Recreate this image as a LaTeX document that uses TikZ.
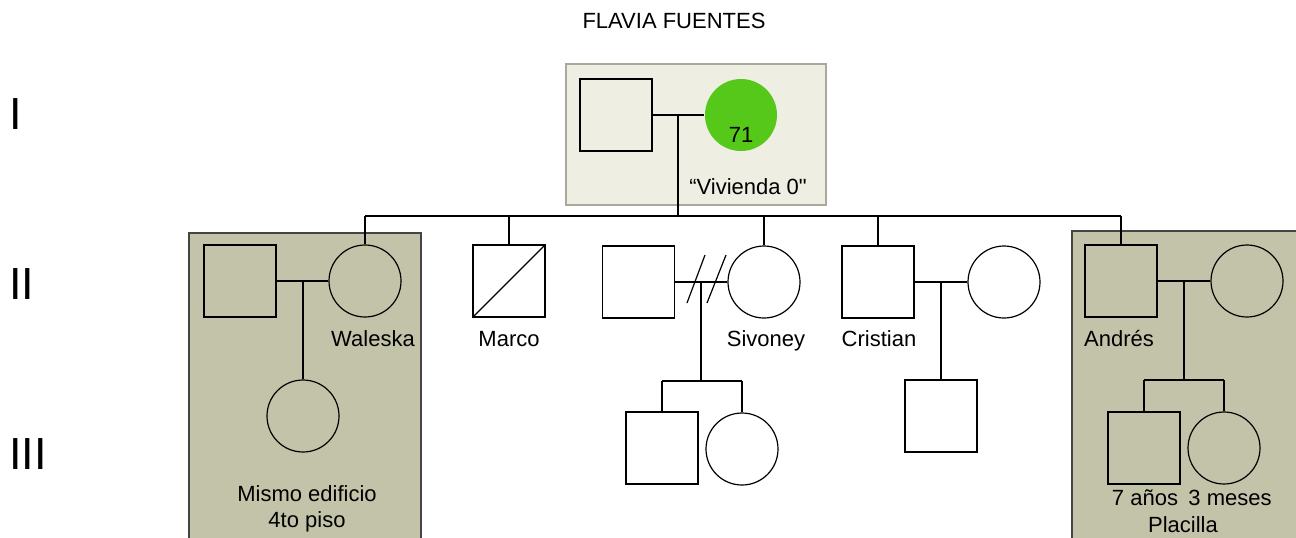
\documentclass[tikz,border=0pt]{standalone}
\usepackage{fontspec}
\setmainfont{Liberation Sans}[Ligatures=TeXOff]
\usetikzlibrary{positioning}
\definecolor{homepale}{HTML}{EFEEE3}
\definecolor{homepaleline}{HTML}{A9A99B}
\definecolor{homeolive}{HTML}{C3C3A9}
\definecolor{homeoliveline}{HTML}{444444}
\definecolor{agegreen}{HTML}{55C81A}

\begin{document}
\begin{tikzpicture}[x=0.5pt,y=-0.5pt,
  male/.style={draw, rectangle, minimum size=36pt, inner sep=0pt, line width=0.6pt},
  female/.style={draw, circle, minimum size=36pt, inner sep=0pt, line width=0.6pt},
  tag/.style={font=\fontsize{11}{13}\selectfont, align=center},
  lbl/.style={tag, anchor=base},
  gen/.style={font=\fontsize{22.5}{24}\selectfont, anchor=west, inner sep=0pt},
  tie/.style={line width=0.6pt}]
\clip (0,0) rectangle (1296,537);
% households
\draw[fill=homepale, draw=homepaleline, line width=0.6pt] (566,64) rectangle (826,205);
\draw[fill=homeolive, draw=homeoliveline, line width=0.6pt] (189,233) rectangle (421,545);
\draw[fill=homeolive, draw=homeoliveline, line width=0.6pt] (1072,231) rectangle (1310,545);
% titles
\node[tag] (title) at (674,21) {FLAVIA FUENTES};
\node[gen] (g1) at (9,114) {I};
\node[gen] (g2) at (9,284) {II};
\node[gen] (g3) at (9,454) {III};
% generation I
\node[male] (f1m) at (616,115) {};
\node[female, draw=none, fill=agegreen] (f1f) at (741,115) {};
\node[tag] (age) at (741,135) {71};
\node[tag] (viv) at (748,187) {“Vivienda 0"};
% generation II
\node[male] (wh) at (240,281) {};
\node[female] (wal) at (365,281) {};
\node[male] (marco) at (509,281) {};
\node[male] (sivh) at (638.5,282) {};
\node[female] (siv) at (764,282) {};
\node[male] (cri) at (878,282) {};
\node[female] (criw) at (1004,282) {};
\node[male] (and) at (1121,281) {};
\node[female] (andw) at (1247,281) {};
% generation III
\node[female] (walc) at (303,416) {};
\node[male] (siva) at (662,448) {};
\node[female] (sivb) at (742,449) {};
\node[male] (cric) at (941,416) {};
\node[male] (anda) at (1144,448) {};
\node[female] (andb) at (1224,448) {};
% names
\node[lbl] (lwal) at (373,346) {Waleska};
\node[lbl] (lmarco) at (509,346) {Marco};
\node[lbl] (lsiv) at (766,346) {Sivoney};
\node[lbl] (lcri) at (879,346) {Cristian};
\node[lbl] (land) at (1119,346) {Andrés};
\node[tag] (lwalc) at (307,509) {Mismo edificio\\4to piso};
\node[tag] (landa) at (1145,498) {7 años};
\node[tag] (landb) at (1230,498) {3 meses};
\node[tag] (lpla) at (1183,525) {Placilla};
% lines
\draw[tie] (f1m.east) -- (f1f.west);
\coordinate (f1mid) at (678,115);
\coordinate (f1sib) at (678,216);
\draw[tie] (f1mid) -- (f1sib);
\draw[tie] (wal |- f1sib) -- (and |- f1sib);
\foreach \kid in {wal, marco, siv, cri, and}
  \draw[tie] (\kid |- f1sib) -- (\kid.north);
\draw[tie] (marco.south west) -- (marco.north east);

\draw[tie] (wh.east) -- (wal.west);
\draw[tie] (walc |- wh.east) -- (walc.north);

\draw[tie] (sivh.east) -- (siv.west);
\coordinate (sivmid) at (701,282);
\coordinate (sivsib) at (701,381);
\draw[tie] (sivmid) -- (sivsib);
\draw[tie] (siva |- sivsib) -- (sivb |- sivsib);
\foreach \kid in {siva, sivb}
  \draw[tie] (\kid |- sivsib) -- (\kid.north);
\draw[tie] (687,303) -- (705,255);
\draw[tie] (707,303) -- (726,255);

\draw[tie] (cri.east) -- (criw.west);
\draw[tie] (cric |- cri.east) -- (cric.north);

\draw[tie] (and.east) -- (andw.west);
\coordinate (andmid) at (1184,281);
\coordinate (andsib) at (1184,380);
\draw[tie] (andmid) -- (andsib);
\draw[tie] (anda |- andsib) -- (andb |- andsib);
\foreach \kid in {anda, andb}
  \draw[tie] (\kid |- andsib) -- (\kid.north);
\end{tikzpicture}
\end{document}
